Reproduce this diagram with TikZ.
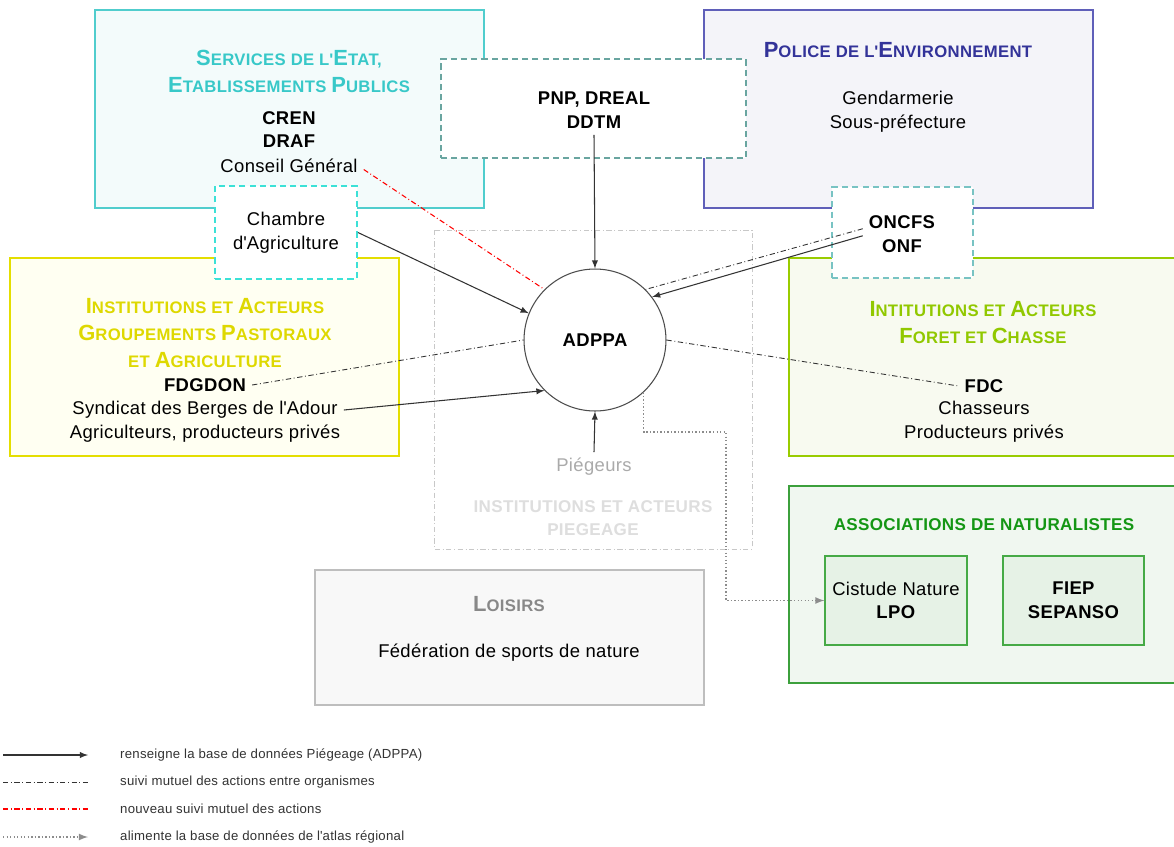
\documentclass[tikz,border=0pt]{standalone}
\usepackage{fontspec}
\setmainfont{Liberation Sans}[LetterSpace=2]
\definecolor{svcB}{RGB}{80,205,205}\definecolor{svcF}{RGB}{243,251,251}\definecolor{svcT}{RGB}{56,200,200}
\definecolor{polB}{RGB}{95,95,185}\definecolor{polF}{RGB}{244,244,249}\definecolor{polT}{RGB}{51,51,153}
\definecolor{agrB}{RGB}{228,222,0}\definecolor{agrF}{RGB}{255,255,242}\definecolor{agrT}{RGB}{222,216,0}
\definecolor{forB}{RGB}{153,204,0}\definecolor{forF}{RGB}{248,250,240}\definecolor{forT}{RGB}{145,200,0}
\definecolor{natB}{RGB}{60,160,60}\definecolor{natF}{RGB}{240,247,240}\definecolor{natT}{RGB}{20,150,20}
\definecolor{natI}{RGB}{70,170,70}\definecolor{natIF}{RGB}{230,242,230}
\definecolor{loiB}{RGB}{190,190,190}\definecolor{loiF}{RGB}{248,248,248}\definecolor{loiT}{RGB}{136,136,136}
\definecolor{pgB}{RGB}{200,200,200}\definecolor{pgT}{RGB}{170,170,170}\definecolor{pgL}{RGB}{222,222,222}
\definecolor{pnpB}{RGB}{105,165,160}\definecolor{chaB}{RGB}{60,225,215}\definecolor{oncB}{RGB}{120,195,195}
\newcommand\scw[2]{{\fontsize{12.5}{15.3}\selectfont #1}#2}
\newcommand\apo{\textquotesingle}

\begin{document}
\begin{tikzpicture}[>=latex, x=0.02cm, y=-0.02cm,
  grp/.style={line width=0.6pt},
  ttl/.style={font=\fontsize{9.5}{15.3}\selectfont\bfseries, align=center},
  txt/.style={font=\fontsize{10.5}{13.5}\selectfont, align=center},
  acr/.style={font=\fontsize{10.5}{13.5}\selectfont\bfseries, align=center},
  caps/.style={font=\fontsize{9.7}{13.5}\selectfont\bfseries, align=center},
  dbox/.style={draw, fill=white, line width=1.1pt, dash pattern=on 3.5pt off 2.3pt},
  conn/.style={->, line width=0.6pt, black!80},
  suivi/.style={line width=0.5pt, black!80, dash pattern=on 3pt off 1.5pt on 0.5pt off 1.5pt},
  nouveau/.style={line width=0.6pt, draw=red, dash pattern=on 3pt off 1.5pt on 0.5pt off 1.5pt},
  atlas/.style={->, line width=0.8pt, black!45, dash pattern=on 0.8pt off 1.2pt},
  leg/.style={anchor=west, font=\fontsize{7.5}{9}\selectfont, text=black!80}]
\useasboundingbox (0,0) rectangle (1174,846);
\fill[white] (0,0) rectangle (1174,846);

% les grands ensembles
\draw[grp, draw=svcB, fill=svcF] (95,10) rectangle (484,208);
\draw[grp, draw=polB, fill=polF] (704,10) rectangle (1093,208);
\draw[grp, draw=agrB, fill=agrF] (10,258) rectangle (399,456);
\draw[grp, draw=forB, fill=forF] (789,258) rectangle (1180,456);
\draw[grp, draw=natB, fill=natF] (789,486) rectangle (1180,683);
\draw[grp, draw=loiB, fill=loiF] (315,570) rectangle (704,705);
\draw[line width=0.5pt, pgB, dash pattern=on 3pt off 1.5pt on 0.5pt off 1.5pt] (434,230) rectangle (752,549);

\node[dbox, draw=pnpB, minimum width=6.1cm, minimum height=1.98cm] (pnp) at (593.5,108.5) {};
\node[dbox, draw=chaB, minimum width=2.84cm, minimum height=1.86cm, txt] (chambre) at (286,232.5) {Chambre\\d\apo Agriculture};
\node[dbox, draw=oncB, minimum width=2.82cm, minimum height=1.82cm] (oncfsbox) at (902.5,232.5) {};
\node[circle, draw=black!70, fill=white, line width=0.6pt, minimum size=2.84cm, acr] (adppa) at (595,340) {ADPPA};
\node[draw=natI, fill=natIF, line width=0.6pt, minimum width=2.84cm, minimum height=1.78cm, txt] (cistude) at (896,600.5) {Cistude Nature\\\textbf{LPO}};
\node[draw=natI, fill=natIF, line width=0.6pt, minimum width=2.82cm, minimum height=1.78cm, acr] (fiep) at (1073.5,600.5) {FIEP\\SEPANSO};

% textes
\node[ttl, text=svcT] (svct) at (289,71) {\scw{S}{ERVICES DE L\apo}\scw{E}{TAT,}\\\scw{E}{TABLISSEMENTS} \scw{P}{UBLICS}};
\node[acr] (svcl) at (289,129.5) {CREN\\DRAF};
\node[txt] (conseil) at (289,166) {Conseil Général};
\node[ttl, text=polT] (polt) at (898,50) {\scw{P}{OLICE DE L\apo}\scw{E}{NVIRONNEMENT}};
\node[txt] (polx) at (898,112) {Gendarmerie\\Sous-préfecture};
\node[acr] (pnptxt) at (594,110.5) {PNP, DREAL\\DDTM};
\node[acr] (oncfs) at (902,234) {ONCFS\\ONF};
\node[ttl, text=agrT] (agrt) at (205,333) {\scw{I}{NSTITUTIONS ET} \scw{A}{CTEURS}\\\scw{G}{ROUPEMENTS} \scw{P}{ASTORAUX}\\\scw{}{ET} \scw{A}{GRICULTURE}};
\node[acr] (fdgdon) at (205,385) {FDGDON};
\node[txt] (synd) at (205,410) {Syndicat des Berges de l\apo Adour};
\node[txt] (agri) at (205,434) {Agriculteurs, producteurs privés};
\node[ttl, text=forT] (fort) at (983,322.5) {\scw{I}{NTITUTIONS ET} \scw{A}{CTEURS}\\\scw{F}{ORET ET} \scw{C}{HASSE}};
\node[acr] (fdc) at (984,386) {FDC};
\node[txt] (chass) at (984,422) {Chasseurs\\Producteurs privés};
\node[txt, text=pgT] (piegeurs) at (594,467) {Piégeurs};
\node[caps, text=pgL] (piegt) at (593,518) {INSTITUTIONS ET ACTEURS\\PIEGEAGE};
\node[caps, text=natT] (natt) at (984,525) {ASSOCIATIONS DE NATURALISTES};
\node[ttl, text=loiT] (loit) at (509,604) {\scw{L}{OISIRS}};
\node[txt] (fede) at (509,653) {Fédération de sports de nature};

% liens
\draw[conn] (pnptxt.south) -- (adppa.north);
\draw[conn] (chambre.east) -- (adppa.158);
\draw[conn] (synd.east) -- (adppa.225);
\draw[conn] ([yshift=-1pt]oncfs.west) -- (adppa.37);
\draw[suivi] ([yshift=3pt]oncfs.west) -- (adppa.45);
\draw[nouveau] ([yshift=-2pt]conseil.east) -- (adppa.135);
\draw[suivi] (fdgdon.east) -- (adppa.west);
\draw[suivi] (adppa.east) -- (fdc.west);
\draw[conn] (piegeurs.north) -- (adppa.south);
\coordinate (coude) at (726,432);
\draw[atlas] (adppa.-47) |- (coude) |- (cistude.west);

% legende
\coordinate (l1a) at (3,755); \coordinate (l1b) at (88,755);
\coordinate (l2a) at (3,782); \coordinate (l2b) at (88,782);
\coordinate (l3a) at (3,809); \coordinate (l3b) at (88,809);
\coordinate (l4a) at (3,837); \coordinate (l4b) at (88,837);
\draw[conn] (l1a) -- (l1b);
\draw[suivi] (l2a) -- (l2b);
\draw[nouveau] (l3a) -- (l3b);
\draw[atlas] (l4a) -- (l4b);
\node[leg] (leg1) at (114,755) {renseigne la base de données Piégeage (ADPPA)};
\node[leg] (leg2) at (114,782) {suivi mutuel des actions entre organismes};
\node[leg] (leg3) at (114,809) {nouveau suivi mutuel des actions};
\node[leg] (leg4) at (114,837) {alimente la base de données de l\apo atlas régional};
\end{tikzpicture}
\end{document}
